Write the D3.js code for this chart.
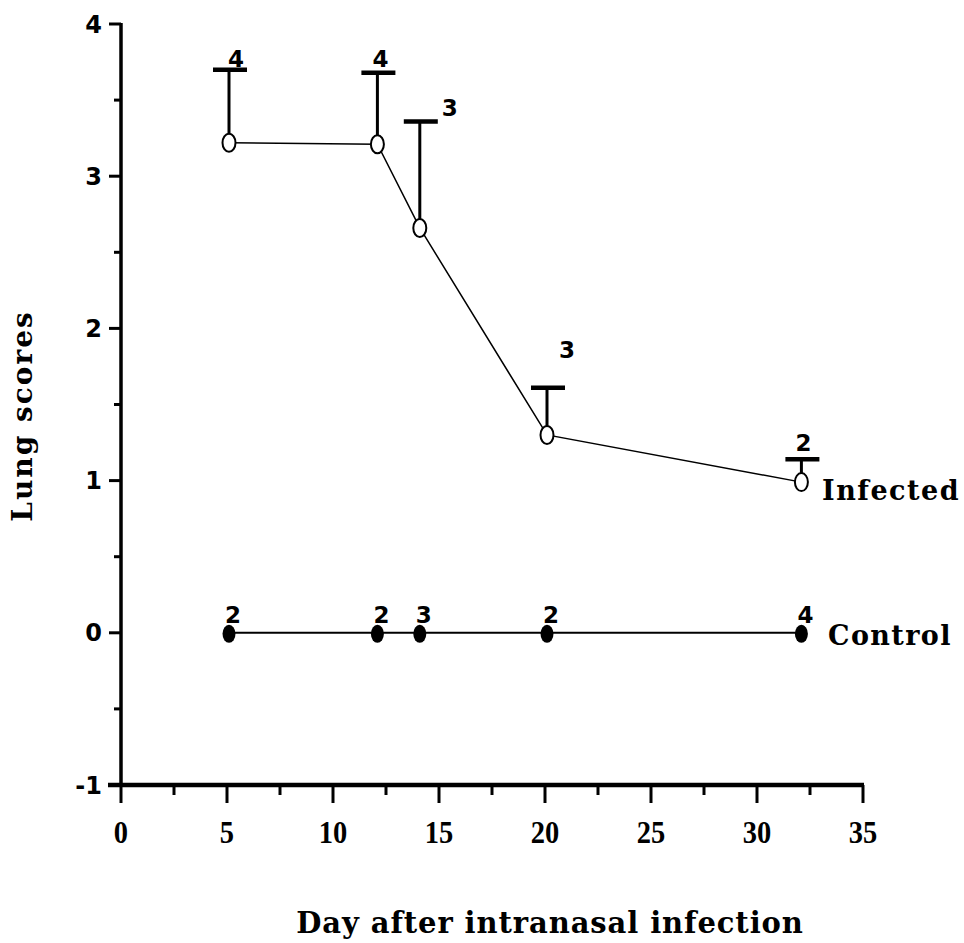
<!DOCTYPE html>
<html><head><meta charset="utf-8">
<script src="https://cdn.jsdelivr.net/npm/d3@7"></script>
<style>body{margin:0;background:#fff}svg{display:block}</style>
</head><body>
<svg id="c" width="964" height="943"></svg>
<script>
const days = [5, 12, 14, 20, 32];
const infectedMean = [3.22, 3.21, 2.66, 1.30, 0.99];
const infectedUpper = [3.70, 3.68, 3.36, 1.61, 1.14];
const infectedN = ["4", "4", "3", "3", "2"];
const controlMean = [0, 0, 0, 0, 0];
const controlN = ["2", "2", "3", "2", "4"];
const xTicks = [0, 5, 10, 15, 20, 25, 30, 35];
const yTicks = [-1, 0, 1, 2, 3, 4];

const svg = d3.select("#c");
const x = d3.scaleLinear().domain([0, 35]).range([121, 863]);
const y = d3.scaleLinear().domain([-1, 4]).range([785, 24]);
const serif = "'Liberation Serif', serif";
const slab = "'DejaVu Serif', serif";
const sans = "'DejaVu Sans', sans-serif";

// Y axis
const gy = svg.append("g").attr("transform", `translate(${x(0)},0)`);
gy.append("line").attr("y1", y(4) - 1).attr("y2", y(-1)).attr("stroke", "#000").attr("stroke-width", 3.5);
gy.selectAll(".maj").data(yTicks).join("line")
  .attr("x1", -12).attr("x2", 0).attr("y1", d => y(d)).attr("y2", d => y(d))
  .attr("stroke", "#000").attr("stroke-width", 3);
gy.selectAll(".min").data(d3.range(-0.5, 4, 1)).join("line")
  .attr("x1", -7).attr("x2", 0).attr("y1", d => y(d)).attr("y2", d => y(d))
  .attr("stroke", "#000").attr("stroke-width", 3);
gy.selectAll("text").data(yTicks).join("text")
  .attr("x", -19).attr("y", d => y(d)).attr("dy", "0.36em")
  .attr("text-anchor", "end").attr("font-family", sans).attr("font-weight", "bold")
  .attr("font-size", 24).text(d => d === -1 ? "-1" : d);

// X axis
const gx = svg.append("g").attr("transform", `translate(0,${y(-1)})`);
gx.append("line").attr("x1", x(0) - 13).attr("x2", x(35) + 1).attr("stroke", "#000").attr("stroke-width", 4.5);
gx.selectAll(".maj").data(xTicks).join("line")
  .attr("x1", d => x(d)).attr("x2", d => x(d)).attr("y1", 0).attr("y2", 18)
  .attr("stroke", "#000").attr("stroke-width", 3);
gx.selectAll(".min").data(d3.range(2.5, 35, 5)).join("line")
  .attr("x1", d => x(d)).attr("x2", d => x(d)).attr("y1", 0).attr("y2", 10)
  .attr("stroke", "#000").attr("stroke-width", 3);
gx.selectAll("text").data(xTicks).join("text")
  .attr("x", d => x(d)).attr("y", 58)
  .attr("text-anchor", "middle").attr("font-family", serif).attr("font-weight", "bold")
  .attr("font-size", 31).attr("transform", d => `translate(${x(d)},0) scale(0.92,1) translate(${-x(d)},0)`)
  .text(d => d);

// Axis titles
svg.append("text").attr("x", 550).attr("y", 933).attr("text-anchor", "middle")
  .attr("font-family", slab).attr("font-weight", "bold").attr("font-size", 29)
  .attr("letter-spacing", 0.9).text("Day after intranasal infection");
svg.append("text").attr("transform", `translate(32,416) rotate(-90)`).attr("text-anchor", "middle")
  .attr("font-family", slab).attr("font-weight", "bold").attr("font-size", 28)
  .attr("letter-spacing", 2).text("Lung scores");

const line = d3.line().x(d => x(d[0]) + 2).y(d => y(d[1]));
const inf = days.map((d, i) => [d, infectedMean[i]]);
const ctl = days.map((d, i) => [d, controlMean[i]]);

// Error bars (infected)
const eb = svg.append("g");
eb.selectAll(".v").data(days).join("line")
  .attr("x1", d => x(d) + 2).attr("x2", d => x(d) + 2)
  .attr("y1", (d, i) => y(infectedMean[i]) - 8).attr("y2", (d, i) => y(infectedUpper[i]))
  .attr("stroke", "#000").attr("stroke-width", 3);
eb.selectAll(".h").data(days).join("line")
  .attr("x1", d => x(d) - 14).attr("x2", d => x(d) + 20)
  .attr("y1", (d, i) => y(infectedUpper[i])).attr("y2", (d, i) => y(infectedUpper[i]))
  .attr("stroke", "#000").attr("stroke-width", 4.5);

// Lines
svg.append("path").datum(inf).attr("d", line).attr("fill", "none").attr("stroke", "#000").attr("stroke-width", 1.5);
svg.append("path").datum(ctl).attr("d", line).attr("fill", "none").attr("stroke", "#000").attr("stroke-width", 2);

// Markers
svg.selectAll(".inf").data(inf).join("ellipse")
  .attr("cx", d => x(d[0]) + 2).attr("cy", d => y(d[1])).attr("rx", 6.5).attr("ry", 9)
  .attr("fill", "#fff").attr("stroke", "#000").attr("stroke-width", 2);
svg.selectAll(".ctl").data(ctl).join("ellipse")
  .attr("cx", d => x(d[0]) + 2).attr("cy", d => y(d[1]) + 1).attr("rx", 6.5).attr("ry", 9)
  .attr("fill", "#000");

// N labels
const infOff = [[9, -3], [5, -6], [32, -5], [22, -30], [4, -8]];
svg.selectAll(".infn").data(days).join("text")
  .attr("x", (d, i) => x(d) + infOff[i][0]).attr("y", (d, i) => y(infectedUpper[i]) + infOff[i][1])
  .attr("text-anchor", "middle").attr("font-family", sans).attr("font-weight", "bold")
  .attr("font-size", 23).text((d, i) => infectedN[i]);
svg.selectAll(".ctln").data(days).join("text")
  .attr("x", d => x(d) + 6).attr("y", (d, i) => y(controlMean[i]) - 10)
  .attr("text-anchor", "middle").attr("font-family", sans).attr("font-weight", "bold")
  .attr("font-size", 23).text((d, i) => controlN[i]);

// Series labels
svg.append("text").attr("x", 822).attr("y", 500)
  .attr("font-family", slab).attr("font-weight", "bold").attr("font-size", 27)
  .attr("letter-spacing", 1.5).text("Infected");
svg.append("text").attr("x", 828).attr("y", 645)
  .attr("font-family", slab).attr("font-weight", "bold").attr("font-size", 27)
  .attr("letter-spacing", 1.4).text("Control");
</script>
</body></html>
